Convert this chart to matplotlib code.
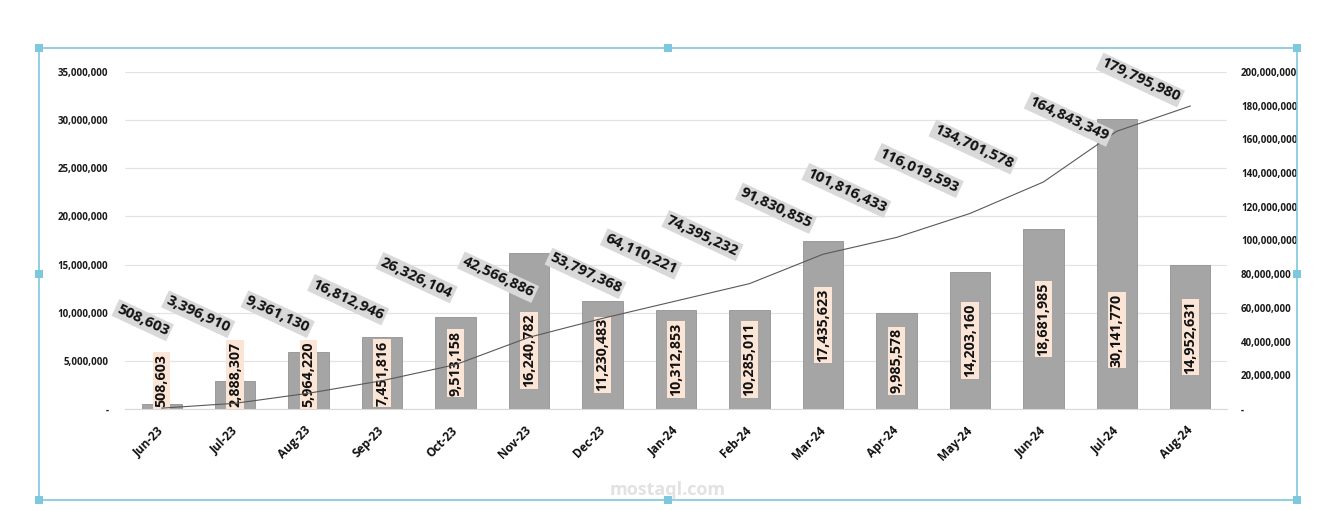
import matplotlib
matplotlib.use("Agg")
import matplotlib.pyplot as plt
from matplotlib.patches import Rectangle
from matplotlib.ticker import FuncFormatter, MultipleLocator

plt.rcParams['font.family'] = ['Open Sans', 'DejaVu Sans']

months = ["Jun-23", "Jul-23", "Aug-23", "Sep-23", "Oct-23", "Nov-23", "Dec-23",
          "Jan-24", "Feb-24", "Mar-24", "Apr-24", "May-24", "Jun-24", "Jul-24", "Aug-24"]
monthly = [508603, 2888307, 5964220, 7451816, 9513158, 16240782, 11230483,
           10312853, 10285011, 17435623, 9985578, 14203160, 18681985, 30141770, 14952631]
cumulative = [508603, 3396910, 9361130, 16812946, 26326104, 42566886, 53797368,
              64110221, 74395232, 91830855, 101816433, 116019593, 134701578,
              164843349, 179795980]

# label placement (pixel offsets from the line point)
line_lbl_off = [(-19, 88), (-37, 89), (-31, 79), (-34, 81), (-39, 87), (-31, 60),
                (-17, 45), (-35, 47), (-47, 48), (-47, 46), (-50, 47), (-51, 43),
                (-70, 35), (-48, 12), (-50, 26)]
bar_lbl_override = {5: 6.1e6, 13: 8.2e6}

W, H = 1339, 511
fig = plt.figure(figsize=(W / 100, H / 100), dpi=100)
ax = fig.add_axes([125 / W, 1 - 409 / H, (1227 - 125) / W, 337 / H])
ax2 = ax.twinx()

x = list(range(len(months)))
ax.bar(x, monthly, width=0.55, color="#a5a5a5", edgecolor="#929292", linewidth=0.6, zorder=2)
ax.set_xlim(-0.5, len(months) - 0.5)
ax.set_ylim(0, 35e6)
ax2.set_ylim(0, 200e6)
ax.yaxis.set_major_locator(MultipleLocator(5e6))
ax2.yaxis.set_major_locator(MultipleLocator(20e6))

fmt = FuncFormatter(lambda v, p: "-" if v == 0 else f"{int(v):,}")
ax.yaxis.set_major_formatter(fmt)
ax2.yaxis.set_major_formatter(fmt)

ax.grid(axis="y", color="#e4e4e4", linewidth=0.9, zorder=0)
ax.set_axisbelow(True)
for a in (ax, ax2):
    for s in a.spines.values():
        s.set_visible(False)
ax.spines["bottom"].set_visible(True)
ax.spines["bottom"].set_color("#d9d9d9")

ax.tick_params(axis="y", length=0, pad=12, labelsize=7, labelcolor="#1a1a1a")
ax2.tick_params(axis="y", length=0, pad=10, labelsize=7, labelcolor="#1a1a1a")
for t in ax.get_yticklabels() + ax2.get_yticklabels():
    t.set_fontweight("bold")

ax.set_xticks(x)
ax.set_xticklabels(months, rotation=45, ha="right", va="center",
                   rotation_mode="anchor", fontsize=8.5, fontweight="bold", color="#111111")
ax.tick_params(axis="x", length=0, pad=14)

ax2.plot(x, cumulative, color="#595959", linewidth=0.8, zorder=3)

# bar labels
half_lbl = 3.4e6
for i, v in enumerate(monthly):
    kw = dict(rotation=90, ha="center", fontsize=10.3, fontweight="bold",
              color="#111111", zorder=5,
              bbox=dict(boxstyle="square,pad=0.12", facecolor="#fbe5d6", edgecolor="none"))
    if i in bar_lbl_override:
        ax.text(i, bar_lbl_override[i], f"{v:,}", va="center", **kw)
    elif v / 2 < half_lbl:
        ax.text(i, 0.2e6, f"{v:,}", va="bottom", **kw)
    else:
        ax.text(i, v / 2, f"{v:,}", va="center", **kw)

# line labels
for i, v in enumerate(cumulative):
    dx, dy = line_lbl_off[i]
    ax2.annotate(f"{v:,}", (i, v), xytext=(dx, dy), textcoords="offset pixels",
                 rotation=-25, ha="center", va="center", rotation_mode="anchor",
                 fontsize=10.8, fontweight="bold", color="#111111", zorder=6,
                 bbox=dict(boxstyle="square,pad=0.15", facecolor="#d9d9d9", edgecolor="none"))

# watermark
fig.text(668 / W, 1 - 490 / H, "mostaql.com", ha="center", va="center",
         fontsize=13, fontweight="bold", color="#e2e2e2")

# selection frame
fx0, fx1, fy0, fy1 = 39 / W, 1297 / W, 1 - 500 / H, 1 - 48 / H
fig.patches.append(Rectangle((fx0, fy0), fx1 - fx0, fy1 - fy0, transform=fig.transFigure,
                             fill=False, edgecolor="#7ec8dd", linewidth=1.2))
hs_w, hs_h = 8 / W, 8 / H
for hx in (fx0, (fx0 + fx1) / 2, fx1):
    for hy in (fy0, (fy0 + fy1) / 2, fy1):
        if hx == (fx0 + fx1) / 2 and hy == (fy0 + fy1) / 2:
            continue
        fig.patches.append(Rectangle((hx - hs_w / 2, hy - hs_h / 2), hs_w, hs_h,
                                     transform=fig.transFigure, facecolor="#7ec8dd",
                                     edgecolor="none"))

fig.savefig("out.png", dpi=100)
